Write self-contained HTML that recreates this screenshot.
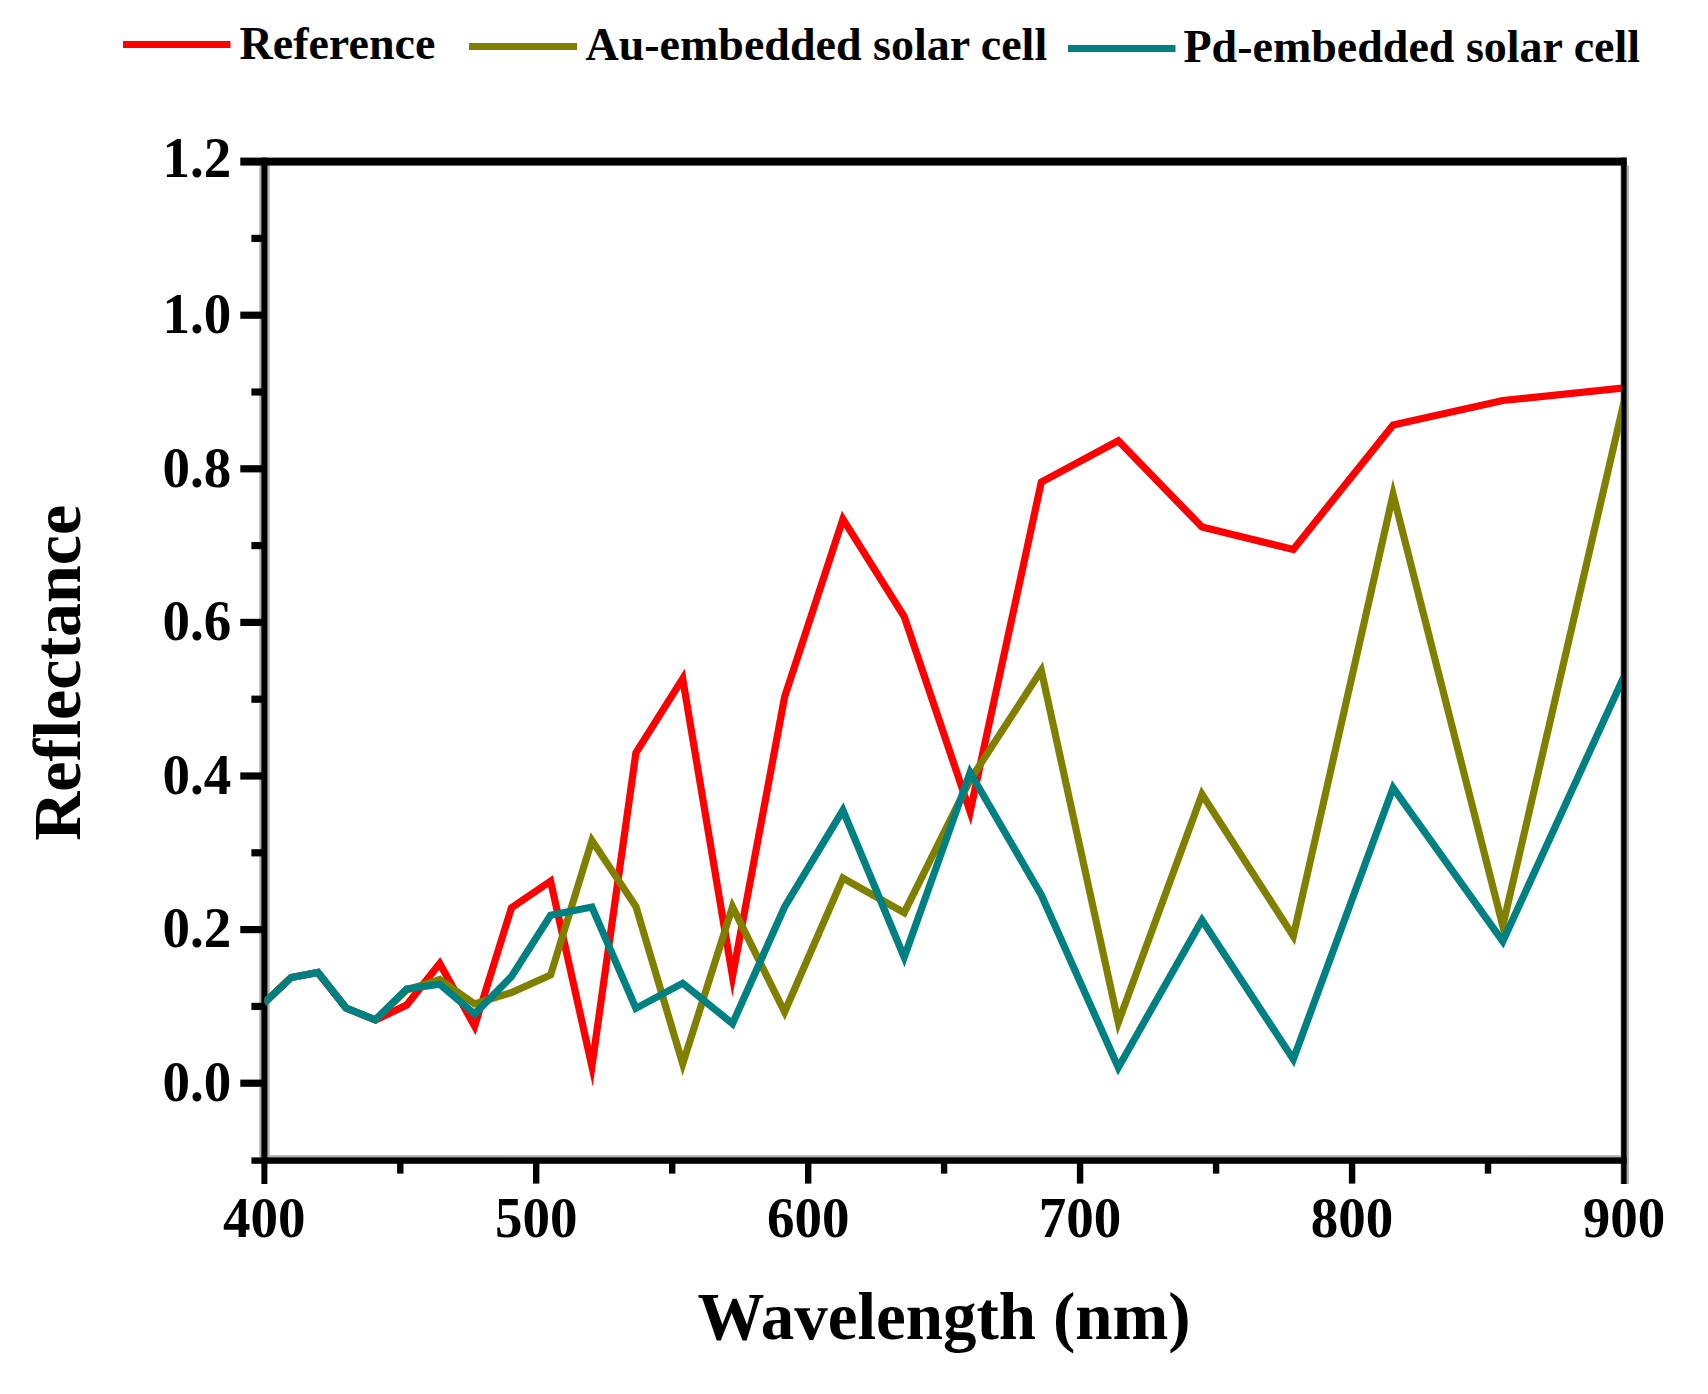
<!DOCTYPE html>
<html lang="en"><head><meta charset="utf-8"><title>Reflectance vs Wavelength</title>
<style>
html,body{margin:0;padding:0;background:#fff;}
body{width:1708px;height:1394px;overflow:hidden;}
svg{display:block;}
text{font-family:"Liberation Serif",serif;font-weight:bold;fill:#000;}
.tick{font-size:55px;}
.leg{font-size:46px;}
.ttl{font-size:67px;}
.ttly{font-size:68px;}
</style></head><body>
<svg width="1708" height="1394" viewBox="0 0 1708 1394">
<defs><clipPath id="plot"><rect x="264.6" y="165.5" width="1356.6" height="992.1"/></clipPath></defs>
<rect x="0" y="0" width="1708" height="1394" fill="#fff"/>

<g fill="#000" opacity="0.3">
<rect x="259.3" y="165.5" width="10.4" height="992"/>
<rect x="1620.4" y="165.5" width="8.6" height="1018.5"/>
<rect x="267" y="1155.2" width="1354" height="3"/>
</g>
<g fill="#000">
<rect x="240.3" y="157.6" width="1386.3" height="8"/>
<rect x="251.4" y="1157.4" width="1375.2" height="6.4"/>
<rect x="261.4" y="157.6" width="6" height="1026.4"/>
<rect x="1621.2" y="157.6" width="5.4" height="1026.4"/>
<rect x="240.3" y="1079.6" width="22" height="7.2"/>
<rect x="251.4" y="1002.8" width="11" height="7.2"/>
<rect x="240.3" y="926.0" width="22" height="7.2"/>
<rect x="251.4" y="849.2" width="11" height="7.2"/>
<rect x="240.3" y="772.4" width="22" height="7.2"/>
<rect x="251.4" y="695.6" width="11" height="7.2"/>
<rect x="240.3" y="618.8" width="22" height="7.2"/>
<rect x="251.4" y="542.0" width="11" height="7.2"/>
<rect x="240.3" y="465.2" width="22" height="7.2"/>
<rect x="251.4" y="388.4" width="11" height="7.2"/>
<rect x="240.3" y="311.6" width="22" height="7.2"/>
<rect x="251.4" y="234.8" width="11" height="7.2"/>
<rect x="397.1" y="1160" width="6.4" height="13.6"/>
<rect x="533.0" y="1160" width="6.4" height="23.6"/>
<rect x="669.0" y="1160" width="6.4" height="13.6"/>
<rect x="805.0" y="1160" width="6.4" height="23.6"/>
<rect x="940.9" y="1160" width="6.4" height="13.6"/>
<rect x="1076.9" y="1160" width="6.4" height="23.6"/>
<rect x="1212.9" y="1160" width="6.4" height="13.6"/>
<rect x="1348.9" y="1160" width="6.4" height="23.6"/>
<rect x="1484.8" y="1160" width="6.4" height="13.6"/>
</g>
<g fill="none" stroke-width="7.2" stroke-linejoin="miter" stroke-miterlimit="30" stroke-linecap="butt" clip-path="url(#plot)">
<polyline stroke="#ff0000" points="264.3,1003.0 291.1,977.5 317.9,972.5 346.1,1008.0 375.3,1020.1 406.7,1005.0 439.7,963.4 474.6,1026.1 511.5,907.7 550.6,881.1 591.9,1066.4 635.9,752.8 682.7,678.7 732.5,976.3 784.6,697.0 842.9,519.1 904.2,616.6 970.1,811.8 1041.3,482.1 1118.3,440.8 1202.0,527.1 1293.3,549.4 1393.1,425.1 1502.8,400.5 1624.0,388.0"/>
<polyline stroke="#808000" points="264.3,1003.0 291.1,977.5 317.9,972.5 346.1,1008.0 375.3,1019.8 406.7,990.0 439.7,979.5 474.6,1003.9 511.5,992.5 550.6,975.0 591.9,840.5 635.9,906.5 682.7,1063.8 732.5,906.9 784.6,1012.0 842.9,878.1 904.2,912.7 970.1,780.0 1041.3,670.4 1118.3,1022.5 1202.0,794.2 1293.3,936.2 1393.1,494.4 1502.8,925.9 1624.0,402.0"/>
<polyline stroke="#008080" points="264.3,1003.0 291.1,977.5 317.9,972.5 346.1,1008.0 375.3,1019.8 406.7,989.0 439.7,984.2 474.6,1013.9 511.5,976.5 550.6,915.2 591.9,907.0 635.9,1008.3 682.7,983.2 732.5,1023.7 784.6,907.0 842.9,810.3 904.2,957.2 970.1,772.4 1041.3,895.0 1118.3,1067.5 1202.0,920.1 1293.3,1059.3 1393.1,787.8 1502.8,941.3 1624.0,676.5"/>
</g>
<text class="tick" transform="translate(231.2,1100.9) scale(1,1.035)" text-anchor="end">0.0</text>
<text class="tick" transform="translate(231.2,947.3) scale(1,1.035)" text-anchor="end">0.2</text>
<text class="tick" transform="translate(231.2,793.7) scale(1,1.035)" text-anchor="end">0.4</text>
<text class="tick" transform="translate(231.2,640.1) scale(1,1.035)" text-anchor="end">0.6</text>
<text class="tick" transform="translate(231.2,486.5) scale(1,1.035)" text-anchor="end">0.8</text>
<text class="tick" transform="translate(231.2,332.9) scale(1,1.035)" text-anchor="end">1.0</text>
<text class="tick" transform="translate(231.2,177.0) scale(1,1.035)" text-anchor="end">1.2</text>
<text class="tick" transform="translate(264.3,1236.8) scale(1,1.035)" text-anchor="middle">400</text>
<text class="tick" transform="translate(536.2,1236.8) scale(1,1.035)" text-anchor="middle">500</text>
<text class="tick" transform="translate(808.2,1236.8) scale(1,1.035)" text-anchor="middle">600</text>
<text class="tick" transform="translate(1080.1,1236.8) scale(1,1.035)" text-anchor="middle">700</text>
<text class="tick" transform="translate(1352.1,1236.8) scale(1,1.035)" text-anchor="middle">800</text>
<text class="tick" transform="translate(1624.0,1236.8) scale(1,1.035)" text-anchor="middle">900</text>
<text class="ttl" x="944" y="1338.8" text-anchor="middle">Wavelength (nm)</text>
<text class="ttly" transform="translate(79.5,672.8) rotate(-90)" text-anchor="middle">Reflectance</text>
<g fill="none" stroke-width="7">
<line x1="123" y1="44.5" x2="230.5" y2="44.5" stroke="#ff0000"/>
<line x1="469" y1="46.6" x2="577" y2="46.6" stroke="#808000"/>
<line x1="1068" y1="48.6" x2="1175.5" y2="48.6" stroke="#008080"/>
</g>
<text class="leg" x="239.5" y="59">Reference</text>
<text class="leg" x="585.5" y="60.2">Au-embedded solar cell</text>
<text class="leg" x="1183.5" y="62">Pd-embedded solar cell</text>
</svg>
</body></html>
